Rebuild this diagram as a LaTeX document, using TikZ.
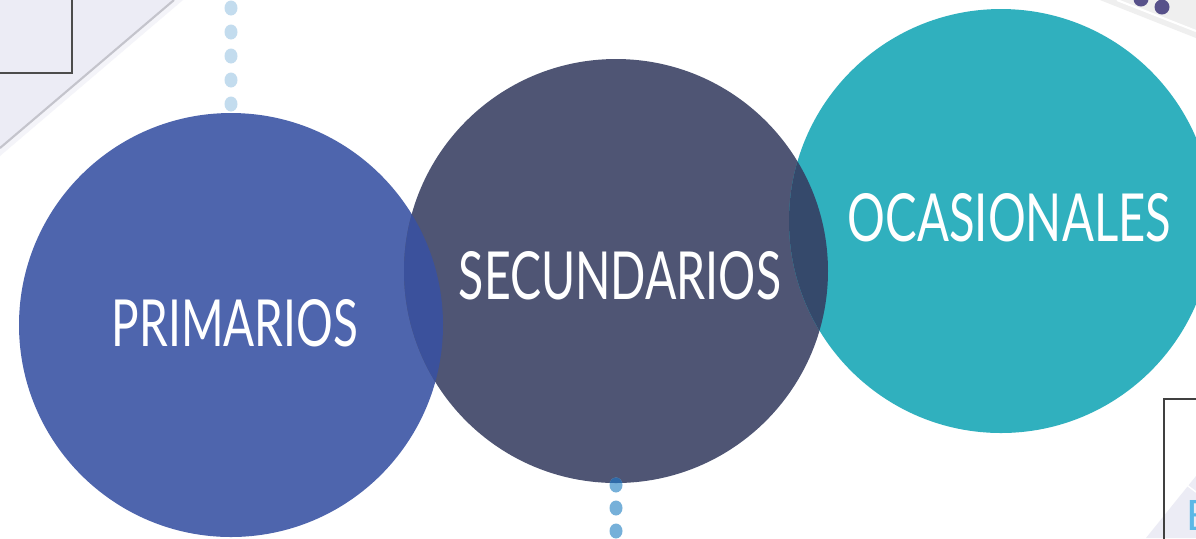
\documentclass[tikz,border=0pt]{standalone}
\usepackage{fontspec}
\setmainfont{Lato}
\usepackage{graphicx}

\definecolor{azulprim}{HTML}{4E65AD}
\definecolor{pizarra}{HTML}{4F5574}
\definecolor{turquesa}{HTML}{30B0BE}
\definecolor{lenteuno}{HTML}{3B519C}
\definecolor{lentedos}{HTML}{35496B}
\definecolor{celeste}{HTML}{C3DCEE}
\definecolor{azulpunto}{HTML}{76B0D9}
\definecolor{azulhondo}{HTML}{2F6AA8}
\definecolor{lavanda}{HTML}{ECECF5}
\definecolor{lavclaro}{HTML}{F4F4F9}
\definecolor{grislinea}{HTML}{C4C4CC}
\definecolor{grisclaro}{HTML}{EFEFEF}
\definecolor{morado}{HTML}{57518A}
\definecolor{azulE}{HTML}{5BB8E6}

\begin{document}
\begin{tikzpicture}[x=0.01cm, y=-0.01cm,
  texto/.style={text=white, inner sep=0pt}]

\useasboundingbox (0,0) rectangle (1196,538);
\clip (0,0) rectangle (1196,538);
\fill[white] (0,0) rectangle (1196,538);

% Banda arriba a la izquierda
\fill[lavanda] (0,0) -- (174,0) -- (0,148) -- cycle;
\fill[lavclaro] (174,0) -- (183,0) -- (0,156) -- (0,148) -- cycle;
\draw[grislinea, line width=0.6pt] (174,0) -- (0,148);

% Marco arriba a la izquierda
\filldraw[fill=lavanda, draw=black!70, line width=0.4pt] (-5,-5) rectangle (72,73);

% Banda arriba a la derecha
\fill[grisclaro] (1100,0) -- (1196,0) -- (1196,38) -- cycle;
\draw[white, line width=0.6pt] (1117,0) -- (1196,31);
\fill[morado] (1141,-1) circle (7.5) (1162,7) circle (7.5);

% Puntos de arriba
\foreach \y in {8,32,56,80,104}
  \fill[celeste] (231,\y) ellipse (6.5 and 7.5);

% Circulos
\fill[azulprim] (231,325) circle (212);
\fill[pizarra] (616,271) circle (212);
\fill[turquesa] (1001,221) circle (212);

% Intersecciones
\begin{scope}
  \clip (231,325) circle (212);
  \fill[lenteuno] (616,271) circle (212);
\end{scope}
\begin{scope}
  \clip (616,271) circle (212);
  \fill[lentedos] (1001,221) circle (212);
\end{scope}

% Puntos de abajo
\foreach \y in {485,508,531}
  \fill[azulpunto] (616,\y) ellipse (6.5 and 7.5);
\begin{scope}
  \clip (616,271) circle (212);
  \fill[azulhondo] (616,485) ellipse (6.5 and 7.5);
\end{scope}

% Marco abajo a la derecha
\fill[lavanda] (1196,476) -- (1196,538) -- (1146,538) -- cycle;
\draw[white, line width=0.4pt] (1167,470) -- (1196,492);
\draw[draw=black!75, line width=0.5pt] (1164,399) rectangle (1215,560);
\node[anchor=west, text=azulE, inner sep=0pt] (letraE) at (1186,515)
  {\resizebox{!}{0.3cm}{E}};

% Textos
\node[texto] (prim) at (235,323.5) {\resizebox{2.46cm}{0.47cm}{PRIMARIOS}};
\node[texto] (secu) at (620,276) {\resizebox{3.22cm}{0.48cm}{SECUNDARIOS}};
\node[texto] (ocas) at (1009.5,218) {\resizebox{3.23cm}{0.48cm}{OCASIONALES}};

\end{tikzpicture}
\end{document}
